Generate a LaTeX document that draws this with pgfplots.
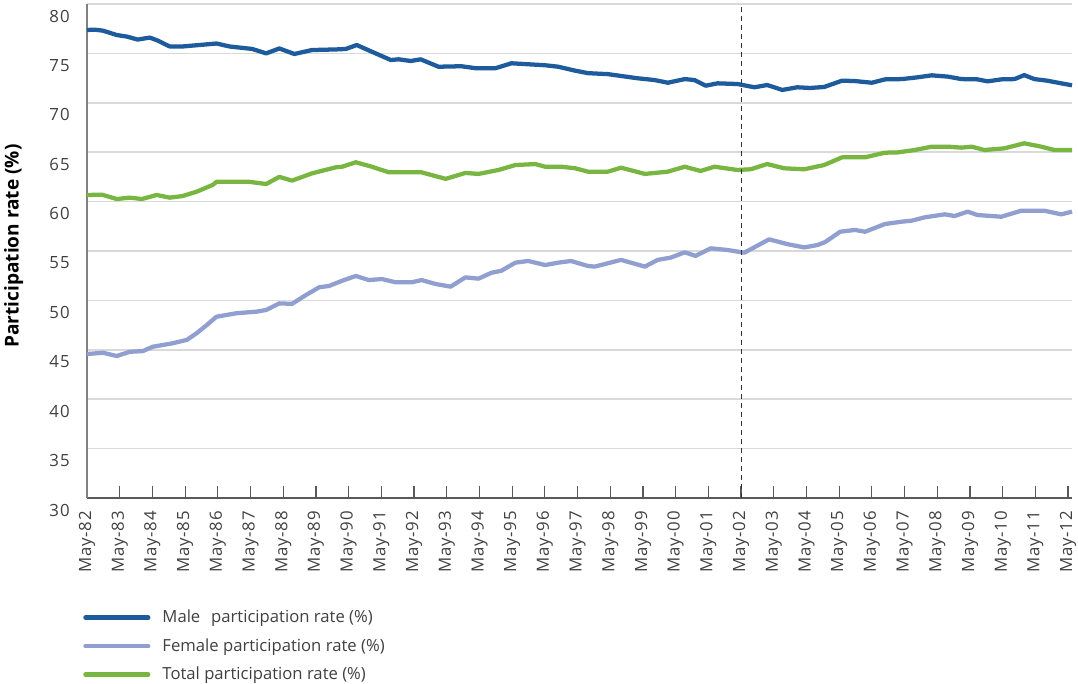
\documentclass[border=0pt]{standalone}
\usepackage{fontspec}
\setmainfont{Open Sans}
\usepackage{pgfplots}
\usepackage{pgfplotstable}
\pgfplotsset{compat=1.18}

\definecolor{cMale}{HTML}{1D5B9C}
\definecolor{cFemale}{HTML}{909FD0}
\definecolor{cTotal}{HTML}{78B541}
\definecolor{gridc}{HTML}{D9D9D9}
\definecolor{axisc}{HTML}{595959}
\definecolor{textc}{HTML}{404040}

% x = years since May-82
\pgfplotstableread{
t v
0.00 77.37
0.24 77.40
0.49 77.30
0.91 76.86
1.22 76.70
1.55 76.40
1.92 76.60
2.16 76.30
2.53 75.70
2.92 75.70
3.44 75.85
3.96 76.00
4.36 75.70
5.05 75.45
5.48 75.00
5.88 75.50
6.34 74.94
6.88 75.34
7.61 75.40
7.92 75.45
8.25 75.85
8.71 75.17
9.29 74.33
9.53 74.40
9.90 74.23
10.20 74.40
10.45 74.06
10.75 73.65
11.45 73.70
11.88 73.50
12.49 73.50
12.98 74.00
13.49 73.90
14.01 73.80
14.41 73.65
14.93 73.25
15.32 73.00
15.93 72.90
16.84 72.48
17.36 72.30
17.76 72.03
18.28 72.40
18.58 72.30
18.92 71.73
19.28 71.97
19.89 71.90
20.41 71.57
20.80 71.80
21.26 71.30
21.72 71.57
22.11 71.50
22.54 71.60
23.09 72.24
23.48 72.20
24.00 72.03
24.40 72.37
24.92 72.40
25.40 72.58
25.83 72.78
26.32 72.65
26.74 72.40
27.23 72.37
27.54 72.17
27.96 72.37
28.36 72.40
28.66 72.80
28.97 72.40
29.36 72.24
29.79 71.97
30.12 71.77
}\male

\pgfplotstableread{
t v
0.00 44.57
0.49 44.70
0.91 44.37
1.31 44.80
1.71 44.87
2.01 45.31
2.62 45.66
3.05 46.00
3.35 46.67
3.66 47.50
3.96 48.35
4.57 48.70
5.18 48.86
5.48 49.03
5.88 49.70
6.27 49.65
6.70 50.55
7.10 51.33
7.40 51.46
7.80 51.99
8.22 52.47
8.62 52.06
9.02 52.16
9.44 51.83
9.93 51.83
10.23 52.06
10.66 51.66
11.12 51.39
11.57 52.33
11.97 52.20
12.37 52.80
12.67 53.00
13.10 53.82
13.49 53.99
14.01 53.58
14.41 53.82
14.80 53.99
15.32 53.48
15.53 53.42
16.33 54.10
17.06 53.42
17.45 54.10
17.85 54.33
18.28 54.87
18.61 54.50
19.07 55.27
19.59 55.10
20.10 54.83
20.86 56.18
21.41 55.70
21.93 55.36
22.33 55.60
22.57 55.90
23.03 56.95
23.48 57.13
23.79 56.95
24.40 57.73
24.92 57.97
25.22 58.07
25.62 58.41
26.23 58.71
26.53 58.54
26.93 58.98
27.23 58.64
27.96 58.47
28.57 59.08
29.27 59.08
29.79 58.71
30.12 58.98
}\female

\pgfplotstableread{
t v
0.00 60.67
0.46 60.70
0.91 60.26
1.31 60.40
1.68 60.26
2.13 60.67
2.53 60.40
2.92 60.56
3.35 61.00
3.84 61.68
3.96 62.00
4.96 62.00
5.48 61.78
5.88 62.50
6.27 62.12
6.88 62.86
7.61 63.47
7.80 63.53
8.22 63.98
8.71 63.53
9.23 62.96
10.23 62.96
10.97 62.30
11.57 62.90
11.97 62.80
12.58 63.20
13.10 63.70
13.71 63.80
14.01 63.53
14.50 63.53
14.93 63.37
15.32 63.03
15.93 63.03
16.33 63.43
17.06 62.80
17.76 63.03
18.28 63.53
18.76 63.10
19.19 63.53
19.89 63.20
20.29 63.27
20.80 63.80
21.32 63.37
21.93 63.27
22.54 63.70
23.09 64.48
23.79 64.48
24.40 64.95
24.79 64.98
25.31 65.22
25.83 65.56
26.32 65.56
26.74 65.46
27.05 65.56
27.44 65.22
28.05 65.39
28.66 65.90
29.18 65.56
29.58 65.22
30.12 65.22
}\total

\begin{document}
\begin{tikzpicture}
\begin{axis}[
    name=ax,
    width=738.75pt, height=370.5pt, scale only axis,
    xmin=0, xmax=30.12, ymin=30, ymax=80,
    xtick={0,...,30},
    xticklabels={May-82,May-83,May-84,May-85,May-86,May-87,May-88,May-89,
      May-90,May-91,May-92,May-93,May-94,May-95,May-96,May-97,May-98,May-99,
      May-00,May-01,May-02,May-03,May-04,May-05,May-06,May-07,May-08,May-09,
      May-10,May-11,May-12},
    ytick={30,35,...,80},
    axis x line=bottom, axis y line=left,
    x axis line style={-, axisc, line width=1.1pt},
    y axis line style={-, gray, line width=1.1pt},
    xtick align=inside, major tick length=9pt,
    xtick style={axisc, line width=0.9pt},
    ytick style={draw=none},
    ymajorgrids, major grid style={gridc, line width=1.1pt},
    % rotated labels: xshift runs along the text, i.e. downwards here
    xticklabel style={rotate=90, anchor=east, xshift=-6.5pt,
      font=\fontsize{12.6}{14}\selectfont\addfontfeature{LetterSpace=4},
      text=textc},
    yticklabel style={font=\fontsize{12.6}{14}\selectfont\addfontfeature{LetterSpace=6},
      text=textc, yshift=-9pt, xshift=-5pt,
      /pgf/number format/assume math mode=true},
    ylabel={\bfseries Participation rate (\%)},
    ylabel style={at={(axis description cs:-0.0745,0.51)},
      anchor=center, font=\fontsize{14.3}{16}\selectfont, text=black},
    legend style={at={(axis description cs:0,0)}, anchor=north west,
      yshift=-80pt, xshift=-6pt, draw=none, fill=none,
      font=\fontsize{12.5}{15}\selectfont, text=textc, row sep=6.4pt,
      /tikz/every odd column/.append style={column sep=7pt}},
    legend cell align=left,
    legend image code/.code={\draw[#1, line width=3.4pt, line cap=round]
      (0pt,0pt) -- (47pt,0pt);},
    clip=false,
]
\addplot[cMale, line width=3.2pt, line join=round] table[x=t, y=v] {\male};
\addlegendentry{Male\hspace{0.65em}participation rate (\%)}
\addplot[cFemale, line width=3.2pt, line join=round] table[x=t, y=v] {\female};
\addlegendentry{Female participation rate (\%)}
\addplot[cTotal, line width=3.2pt, line join=round] table[x=t, y=v] {\total};
\addlegendentry{Total participation rate (\%)}
\addplot[black!80, line width=0.8pt, dash pattern=on 3.75pt off 3pt, forget plot]
  coordinates {(20,30) (20,80)};
\end{axis}
\pgfresetboundingbox
\path (ax.south west) ++(-65.25pt,-139.5pt) coordinate (bl);
\path (ax.north east) ++(4.5pt,3pt) coordinate (tr);
\useasboundingbox (bl) rectangle (tr);
\end{tikzpicture}
\end{document}
